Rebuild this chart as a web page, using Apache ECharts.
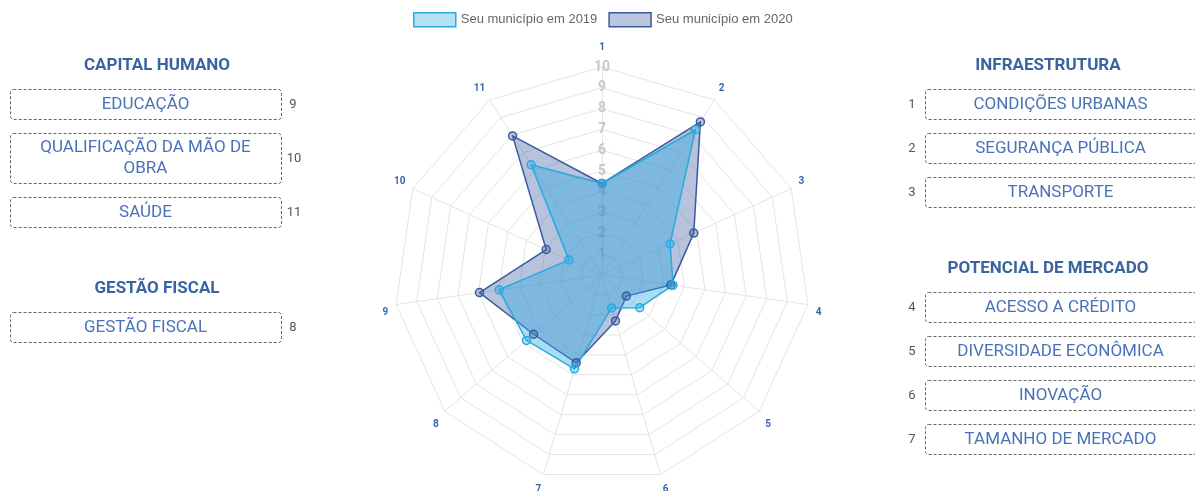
<!DOCTYPE html>
<html>
<head>
<meta charset="utf-8">
<script src="https://cdn.jsdelivr.net/npm/echarts@6/dist/echarts.min.js"></script>
<style>
html,body{margin:0;padding:0;background:#fff;}
#chart{width:1195px;height:491px;}
</style>
</head>
<body>
<div id="chart"></div>
<script>
// ---- data ----
const axisNames = ['1','2','3','4','5','6','7','8','9','10','11'];
const axisMax = 10;
const values2019 = [4.4, 8.3, 3.6, 3.45, 2.4, 1.65, 4.7, 4.8, 5.0, 1.75, 6.3];
const values2020 = [4.4, 8.75, 4.85, 3.35, 1.55, 2.3, 4.4, 4.35, 5.95, 2.95, 7.95];
const seriesNames = ['Seu município em 2019', 'Seu município em 2020'];

// side panels
const leftGroups = ['CAPITAL HUMANO', 'GESTÃO FISCAL'];
const leftItems = [
  ['EDUCAÇÃO', '9'],
  ['QUALIFICAÇÃO DA MÃO DE\nOBRA', '10'],
  ['SAÚDE', '11'],
  ['GESTÃO FISCAL', '8']
];
const rightGroups = ['INFRAESTRUTURA', 'POTENCIAL DE MERCADO'];
const rightItems = [
  ['CONDIÇÕES URBANAS', '1'],
  ['SEGURANÇA PÚBLICA', '2'],
  ['TRANSPORTE', '3'],
  ['ACESSO A CRÉDITO', '4'],
  ['DIVERSIDADE ECONÔMICA', '5'],
  ['INOVAÇÃO', '6'],
  ['TAMANHO DE MERCADO', '7']
];

// ---- layout / styles ----
const c2019 = '#29abe2', c2020 = '#3d5aa0';
const titleColor = '#3a64a0', boxText = '#4a72b8', numColor = '#555';
const FONT = 'Roboto, "Noto Sans", sans-serif';

// ECharts radar runs counter-clockwise: keep axis 1 on top, then 11,10,...,2
const order = [0].concat(axisNames.map((_, i) => i).slice(1).reverse());
const indicator = order.map((i, k) => {
  const ind = { name: axisNames[i], max: axisMax, min: 0 };
  if (k !== 0) ind.axisLabel = { show: false };
  return ind;
});
const reorder = arr => order.map(i => arr[i]);

// panel graphics
const graphics = [];
function title(text, cx, y) {
  graphics.push({ type: 'text', style: { text, x: cx, y, fill: titleColor,
    font: 'bold 17px ' + FONT, align: 'center', verticalAlign: 'middle' } });
}
function box(label, num, x, y, h, numX) {
  const w = 271;
  graphics.push({ type: 'rect', shape: { x: x + 0.5, y: y + 0.5, width: w, height: h, r: 3 },
    style: { fill: 'none', stroke: '#666', lineWidth: 1, lineDash: [3, 2] } });
  graphics.push({ type: 'text', style: { text: label, x: x + w / 2, y: y + h / 2 + 0.5,
    fill: boxText, font: '17px ' + FONT, align: 'center', verticalAlign: 'middle', lineHeight: 21 } });
  graphics.push({ type: 'text', style: { text: num, x: numX, y: y + h / 2 + 0.5,
    fill: numColor, font: '13px ' + FONT, align: 'center', verticalAlign: 'middle' } });
}
// left
title(leftGroups[0], 157, 66);
box(leftItems[0][0], leftItems[0][1], 10, 89, 30, 293);
box(leftItems[1][0], leftItems[1][1], 10, 133, 50, 294);
box(leftItems[2][0], leftItems[2][1], 10, 197, 30, 294);
title(leftGroups[1], 157, 289);
box(leftItems[3][0], leftItems[3][1], 10, 312, 30, 293);
// right
title(rightGroups[0], 1048, 66);
const rY1 = [89, 133, 177];
rY1.forEach((y, i) => box(rightItems[i][0], rightItems[i][1], 925, y, 30, 912));
title(rightGroups[1], 1048, 269);
const rY2 = [292, 336, 380, 424];
rY2.forEach((y, i) => box(rightItems[3 + i][0], rightItems[3 + i][1], 925, y, 30, 912));

// axis-name fine placement (padding per axis label)
const nameFont = { color: '#3a64ae', fontSize: 10, fontWeight: 'bold', fontFamily: FONT };
const namePad = {
  '1': [0, 0, 7, 0], '2': [0, 0, 9, 0], '11': [0, 0, 9, 0],
  '3': [0, 0, 7, 0], '10': [0, 0, 7, 0],
  '4': [14, 0, 0, 0], '9': [14, 0, 0, 0],
  '5': [16, 0, 0, 0], '8': [16, 0, 0, 0],
  '6': [14, 0, 0, 0], '7': [14, 0, 0, 0]
};
const rich = {};
axisNames.forEach(n => { rich['a' + n] = Object.assign({}, nameFont, { padding: namePad[n] }); });

const chart = echarts.init(document.getElementById('chart'));
chart.setOption({
  animation: false,
  textStyle: { fontFamily: FONT },
  legend: {
    left: 408, top: 7,
    itemWidth: 42, itemHeight: 14, itemGap: 11,
    icon: 'rect',
    textStyle: { color: '#666', fontSize: 13, fontFamily: '"Liberation Sans", Arial, sans-serif' },
    data: [
      { name: seriesNames[0], itemStyle: { color: 'rgba(41,171,226,0.35)', borderColor: c2019, borderWidth: 1.5 } },
      { name: seriesNames[1], itemStyle: { color: 'rgba(61,90,160,0.35)', borderColor: c2020, borderWidth: 1.5 } }
    ]
  },
  radar: {
    z: 1,
    center: [602, 275],
    radius: 208,
    startAngle: 90,
    shape: 'polygon',
    splitNumber: 10,
    indicator,
    axisName: Object.assign({}, nameFont, {
      formatter: name => '{a' + name + '|' + name + '}',
      rich
    }),
    nameGap: 8,
    splitLine: { lineStyle: { color: '#e4e4e4', width: 1 } },
    axisLine: { lineStyle: { color: '#e4e4e4', width: 1 } },
    splitArea: { show: false },
    axisTick: { show: false },
    axisLabel: {
      show: true, margin: 0, align: 'center', verticalAlign: 'middle',
      color: '#c8c8c8', fontSize: 14, fontWeight: 'bold',
      showMinLabel: false, fontFamily: FONT
    }
  },
  graphic: graphics,
  series: [{
    type: 'radar',
    z: 2,
    symbol: 'circle',
    symbolSize: 8,
    data: [
      {
        name: seriesNames[1], value: reorder(values2020),
        lineStyle: { color: c2020, width: 1.5 },
        areaStyle: { color: 'rgba(61,90,160,0.37)', opacity: 1 },
        itemStyle: { color: 'rgba(61,90,160,0.35)', borderColor: c2020, borderWidth: 1.5 }
      },
      {
        name: seriesNames[0], value: reorder(values2019),
        lineStyle: { color: c2019, width: 1.5 },
        areaStyle: { color: 'rgba(41,171,226,0.4)', opacity: 1 },
        itemStyle: { color: 'rgba(41,171,226,0.35)', borderColor: c2019, borderWidth: 1.5 }
      }
    ]
  }]
});
</script>
</body>
</html>
